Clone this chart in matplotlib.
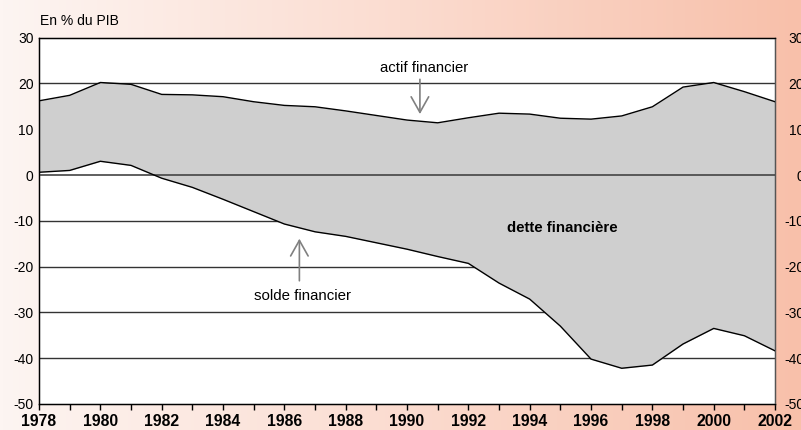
import matplotlib.pyplot as plt
import numpy as np
from matplotlib.colors import LinearSegmentedColormap

plt.rcParams['font.family'] = ['Liberation Sans', 'DejaVu Sans']

# annees et series (en % du PIB)
years = list(range(1978, 2003))
actif = [16.2, 17.4, 20.2, 19.8, 17.6, 17.5, 17.1, 16.0, 15.2, 14.9, 14.0, 13.0, 12.0,
         11.4, 12.5, 13.5, 13.3, 12.4, 12.2, 12.9, 14.9, 19.2, 20.2, 18.2, 16.0]
solde = [0.6, 1.0, 3.0, 2.1, -0.7, -2.7, -5.3, -8.0, -10.7, -12.4, -13.4, -14.8, -16.2,
         -17.8, -19.3, -23.6, -27.1, -33.0, -40.2, -42.2, -41.5, -36.9, -33.5, -35.1, -38.4]
yticks = [-50, -40, -30, -20, -10, 0, 10, 20, 30]
xlabels = [str(y) for y in range(1978, 2003, 2)]

fig = plt.figure(figsize=(8.01, 4.30), dpi=100)

# fond degrade saumon
bg = fig.add_axes([0, 0, 1, 1], zorder=-10)
grad = np.linspace(0, 1, 256).reshape(1, -1)
cmap = LinearSegmentedColormap.from_list('bg', ['#fdf5f2', '#fbdcd0', '#f8c0aa'])
bg.imshow(grad, aspect='auto', cmap=cmap, extent=[0, 1, 0, 1])
bg.axis('off')

ax = fig.add_axes([0.0487, 0.0605, 0.9189, 0.852])
ax.set_facecolor('white')
ax.set_xlim(1978, 2002)
ax.set_ylim(-50, 30)

for g in [-40, -30, -20, -10, 10, 20]:
    ax.axhline(g, color='#333333', lw=1, zorder=1)
ax.fill_between(years, solde, actif, color='#cfcfcf', lw=0, zorder=2)
ax.axhline(0, color='#444444', lw=1.2, zorder=3)
ax.plot(years, actif, color='black', lw=1, zorder=4)
ax.plot(years, solde, color='black', lw=1, zorder=4)

ax.set_yticks(yticks)
ax.set_yticklabels([str(v) for v in yticks], fontsize=10)
ax.tick_params(axis='y', length=0, pad=4)
ax.set_xticks(years, minor=True)
ax.set_xticks(range(1978, 2003, 2))
ax.set_xticklabels(xlabels, fontsize=11.3, fontweight='bold')
ax.tick_params(axis='x', which='both', direction='out', length=4, width=1, pad=3)
for s in ax.spines.values():
    s.set_color('black')
    s.set_linewidth(1)
ax.spines['right'].set_color('#555555')

ax2 = ax.twinx()
ax2.set_ylim(-50, 30)
ax2.set_yticks(yticks)
ax2.set_yticklabels([str(v) for v in yticks], fontsize=10)
ax2.tick_params(axis='y', length=0, pad=21)
for t in ax2.get_yticklabels():
    t.set_ha('right')
ax2.spines['right'].set_color('#555555')

fig.text(0.05, 0.951, 'En % du PIB', fontsize=10, va='center', ha='left')

arrow = dict(arrowstyle='->,head_length=0.8,head_width=0.45',
             color='#808080', lw=1.2, mutation_scale=14)
ax.text(1990.55, 23.3, 'actif financier', fontsize=10.7, ha='center', va='center', zorder=5)
ax.annotate('', xy=(1990.42, 12.7), xytext=(1990.42, 21.5), arrowprops=arrow, zorder=5)
ax.text(1986.6, -26.5, 'solde financier', fontsize=10.8, ha='center', va='center', zorder=5)
ax.annotate('', xy=(1986.49, -13.3), xytext=(1986.49, -23.7), arrowprops=arrow, zorder=5)
ax.text(1995.05, -11.6, 'dette financière', fontsize=10.8, fontweight='bold',
        ha='center', va='center', zorder=5)

fig.savefig('out.png', dpi=100)
